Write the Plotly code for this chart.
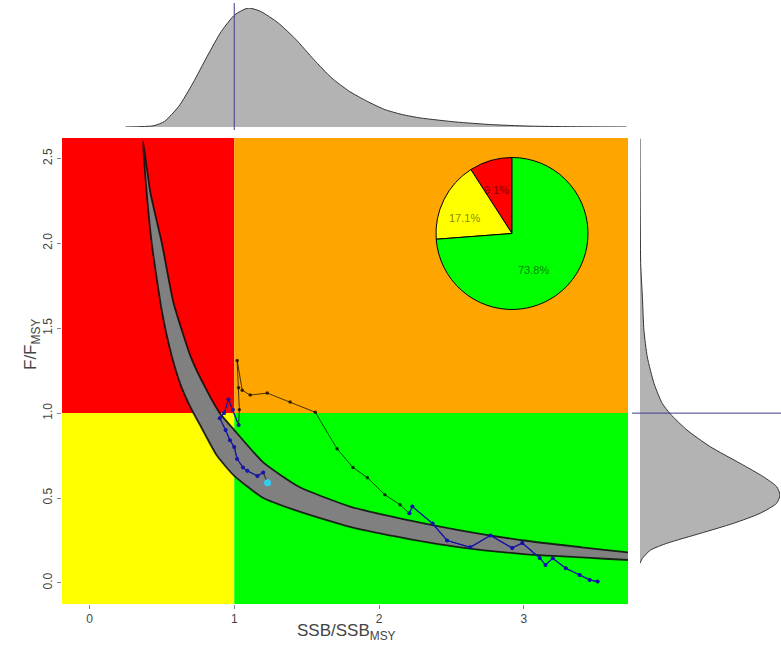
import math
import plotly.graph_objects as go

W, H = 781, 658

# ---- stock status data -------------------------------------------------
# Confidence band around the B/F equilibrium (upper-right and lower-left edges);
# it runs past the right edge of the panel and is clipped there
band_upper_ssb = [0.37, 0.42, 0.50, 0.58, 0.70, 0.80, 0.90, 1.00, 1.20, 1.45, 1.80, 2.20, 2.56, 3.00, 3.40, 3.72, 3.95]
band_upper_f = [2.60, 2.30, 2.00, 1.65, 1.33, 1.15, 1.00, 0.90, 0.71, 0.565, 0.45, 0.37, 0.31, 0.25, 0.21, 0.18, 0.165]
band_lower_ssb = [0.37, 0.39, 0.43, 0.50, 0.57, 0.63, 0.70, 0.77, 0.88, 1.00, 1.20, 1.45, 1.80, 2.20, 2.56, 3.00, 3.40, 3.72, 3.95]
band_lower_f = [2.60, 2.35, 2.00, 1.60, 1.33, 1.165, 1.03, 0.92, 0.75, 0.63, 0.50, 0.42, 0.33, 0.26, 0.21, 0.17, 0.15, 0.135, 0.125]

# Stock trajectory (time order)
traj_ssb = [3.51, 3.455, 3.386, 3.29, 3.20, 3.15, 3.11, 2.99, 2.92, 2.77, 2.63, 2.47, 2.37, 2.23, 2.21,
            2.145, 2.04, 1.92, 1.82, 1.71, 1.56, 1.386, 1.228, 1.11, 1.055, 1.02, 1.03, 1.035, 1.03,
            0.99, 0.96, 0.93, 0.90, 0.94, 0.97, 1.00, 1.02, 1.06, 1.09, 1.16, 1.20, 1.23]
traj_f = [0.008, 0.018, 0.047, 0.086, 0.145, 0.106, 0.147, 0.235, 0.206, 0.28, 0.21, 0.25, 0.35, 0.45, 0.41,
          0.46, 0.52, 0.62, 0.68, 0.79, 1.005, 1.065, 1.118, 1.106, 1.135, 1.31, 1.15, 1.02, 0.93,
          1.02, 1.08, 1.00, 0.97, 0.90, 0.84, 0.80, 0.73, 0.68, 0.66, 0.63, 0.65, 0.59]
early_end = 15      # first years (blue)
late_start = 28     # most recent years (blue)

# Marginal densities (scaled to a maximum of 1)
dens_ssb_x = [0.248, 0.445, 0.519, 0.617, 0.715, 0.813, 0.911, 1.005, 1.096, 1.181, 1.304, 1.427, 1.550,
              1.673, 1.795, 1.918, 2.041, 2.163, 2.286, 2.532, 2.777, 3.023, 3.268, 3.71]
dens_ssb_y = [0.0, 0.011, 0.048, 0.174, 0.370, 0.594, 0.804, 0.944, 1.0, 0.972, 0.874, 0.734, 0.566,
              0.412, 0.300, 0.216, 0.146, 0.104, 0.076, 0.042, 0.020, 0.008, 0.003, 0.0]
dens_f_y = [2.616, 1.88, 1.684, 1.488, 1.331, 1.175, 1.057, 0.994, 0.90, 0.802, 0.704, 0.625, 0.567,
            0.518, 0.469, 0.410, 0.351, 0.292, 0.234, 0.194, 0.145, 0.116]
dens_f_x = [0.0, 0.005, 0.017, 0.028, 0.052, 0.10, 0.159, 0.218, 0.336, 0.502, 0.716, 0.882, 0.976,
            1.0, 0.976, 0.858, 0.668, 0.431, 0.194, 0.076, 0.017, 0.0]

# Probability of each status quadrant in the final year
pie_labels = ["overfished & overfishing", "overfished", "sustainable"]
pie_values = [9.1, 17.1, 73.8]
pie_colors = ["#FF0000", "#FFFF00", "#00FF00"]

x_ticks = [0, 1, 2, 3]
y_ticks = [0.0, 0.5, 1.0, 1.5, 2.0, 2.5]
x_range = [-0.19, 3.72]
y_range = [-0.124, 2.62]

FONT = "Liberation Sans, Arial"

# ---- figure ---------------------------------------------------------------
fig = go.Figure()

# Confidence band polygon
fig.add_trace(go.Scatter(
    x=band_upper_ssb + band_lower_ssb[::-1],
    y=band_upper_f + band_lower_f[::-1],
    fill="toself", fillcolor="#808080", mode="lines",
    line=dict(color="rgba(10,10,10,0.85)", width=1.8, shape="spline", smoothing=0.5),
    hoverinfo="skip", showlegend=False, xaxis="x", yaxis="y"))

# Trajectory
fig.add_trace(go.Scatter(
    x=traj_ssb, y=traj_f, mode="lines+markers",
    line=dict(color="rgba(0,0,0,0.7)", width=1),
    marker=dict(size=3.5, color="rgba(0,0,0,0.75)"),
    showlegend=False, xaxis="x", yaxis="y"))
fig.add_trace(go.Scatter(
    x=traj_ssb[:early_end], y=traj_f[:early_end], mode="lines+markers",
    line=dict(color="#1010b0", width=1.2), marker=dict(size=4, color="#1010b0"),
    showlegend=False, xaxis="x", yaxis="y"))
fig.add_trace(go.Scatter(
    x=traj_ssb[late_start:-1], y=traj_f[late_start:-1], mode="lines+markers",
    line=dict(color="#1818a8", width=1.2), marker=dict(size=4, color="#1818a8"),
    showlegend=False, xaxis="x", yaxis="y"))
fig.add_trace(go.Scatter(
    x=traj_ssb[-1:], y=traj_f[-1:], mode="markers",
    marker=dict(size=7, color="#33ccee"),
    showlegend=False, xaxis="x", yaxis="y"))

# Top marginal density (SSB/SSBmsy)
fig.add_trace(go.Scatter(
    x=dens_ssb_x, y=dens_ssb_y, mode="lines", fill="toself", fillcolor="#b3b3b3",
    line=dict(color="#333333", width=1, shape="spline", smoothing=0.6),
    showlegend=False, xaxis="x2", yaxis="y2"))

# Right marginal density (F/Fmsy)
fig.add_trace(go.Scatter(
    x=dens_f_x, y=dens_f_y, mode="lines", fill="toself", fillcolor="#b3b3b3",
    line=dict(color="#333333", width=1, shape="spline", smoothing=0.6),
    showlegend=False, xaxis="x3", yaxis="y3"))

# Pie of status probabilities: first slice starts at 12 o'clock, running anticlockwise
total = sum(pie_values)
first_sweep = 360.0 * pie_values[0] / total
pie_x0, pie_x1 = (512 - 76) / W, (512 + 76) / W
pie_y0, pie_y1 = (H - 309.5) / H, (H - 157.5) / H
fig.add_trace(go.Pie(
    labels=pie_labels, values=pie_values, sort=False, direction="counterclockwise",
    rotation=-first_sweep, marker=dict(colors=pie_colors, line=dict(color="#000000", width=1)),
    textinfo="none", hoverinfo="label+percent", showlegend=False,
    domain=dict(x=[pie_x0, pie_x1], y=[pie_y0, pie_y1])))

# Slice labels at 70% of the radius on each slice's mid-angle
cx, cy = (pie_x0 + pie_x1) / 2 * W, (pie_y0 + pie_y1) / 2 * H
radius = (pie_x1 - pie_x0) * W / 2
annotations = []
start = 90.0
for v in pie_values:
    sweep = 360.0 * v / total
    mid = math.radians(start + sweep / 2)
    px = cx + 0.7 * radius * math.cos(mid)
    py = cy + 0.7 * radius * math.sin(mid)
    annotations.append(dict(x=px / W, y=py / H, xref="paper", yref="paper", showarrow=False,
                            text=f"{v:.1f}%", font=dict(size=11, color="rgba(0,0,0,0.5)", family=FONT)))
    start += sweep

# Axis titles
annotations.append(dict(x=346 / W, y=(H - 645) / H, xref="paper", yref="paper", showarrow=False,
                        text="SSB/SSB<sub>MSY</sub>",
                        font=dict(size=17, color="#444444", family=FONT)))
annotations.append(dict(x=19 / W, y=(H - 345) / H, xref="paper", yref="paper", showarrow=False,
                        text="F/F<sub>MSY</sub>", textangle=-90,
                        font=dict(size=17, color="#444444", family=FONT)))

# Status quadrants
shapes = [
    dict(type="rect", xref="x", yref="y", x0=x_range[0], x1=1, y0=1, y1=y_range[1],
         fillcolor="#FF0000", line=dict(width=0), layer="below"),
    dict(type="rect", xref="x", yref="y", x0=1, x1=x_range[1], y0=1, y1=y_range[1],
         fillcolor="#FFA500", line=dict(width=0), layer="below"),
    dict(type="rect", xref="x", yref="y", x0=x_range[0], x1=1, y0=y_range[0], y1=1,
         fillcolor="#FFFF00", line=dict(width=0), layer="below"),
    dict(type="rect", xref="x", yref="y", x0=1, x1=x_range[1], y0=y_range[0], y1=1,
         fillcolor="#00FF00", line=dict(width=0), layer="below"),
    # reference lines on the marginal densities
    dict(type="line", xref="x", yref="paper", x0=1, x1=1, y0=(H - 130) / H, y1=(H - 3) / H,
         line=dict(color="#3c3c8c", width=1)),
    dict(type="line", xref="paper", yref="y", x0=632 / W, x1=1, y0=1, y1=1,
         line=dict(color="#3c3c8c", width=1)),
]

main_x_dom = [62 / W, 628 / W]
main_y_dom = [(H - 604) / H, (H - 138) / H]
tick_font = dict(size=12, color="#444444", family=FONT)

fig.update_layout(
    width=W, height=H, autosize=False,
    margin=dict(l=0, r=0, t=0, b=0),
    paper_bgcolor="white", plot_bgcolor="white",
    showlegend=False,
    xaxis=dict(domain=main_x_dom, range=x_range, tickvals=x_ticks, ticktext=[str(t) for t in x_ticks],
               ticks="outside", ticklen=4, tickcolor="#888888", showgrid=False, zeroline=False,
               showline=False, tickfont=tick_font, anchor="y"),
    yaxis=dict(domain=main_y_dom, range=y_range, tickvals=y_ticks, ticktext=[f"{t:.1f}" for t in y_ticks],
               tickangle=-90, ticks="outside", ticklen=4, tickcolor="#888888", showgrid=False,
               zeroline=False, showline=False, tickfont=tick_font, anchor="x"),
    xaxis2=dict(domain=main_x_dom, range=x_range, visible=False, anchor="y2"),
    yaxis2=dict(domain=[(H - 127) / H, (H - 8) / H], range=[0, 1], visible=False, anchor="x2"),
    xaxis3=dict(domain=[640 / W, 780 / W], range=[0, 1], visible=False, anchor="y3"),
    yaxis3=dict(domain=main_y_dom, range=y_range, visible=False, anchor="x3"),
    shapes=shapes,
    annotations=annotations,
)

fig.write_html("out.html")
